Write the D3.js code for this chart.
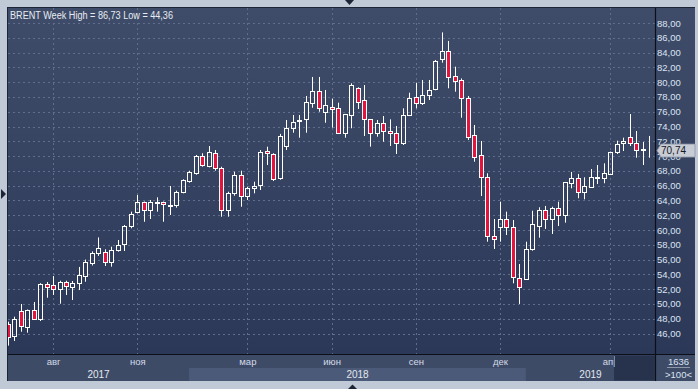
<!DOCTYPE html>
<html><head><meta charset="utf-8">
<script src="https://cdn.jsdelivr.net/npm/d3@7"></script>
<style>html,body{margin:0;padding:0;background:#c0cad7;overflow:hidden}</style>
</head><body><svg id="c" width="698" height="389"></svg>
<script>
// ---- data ----
const firstWeek = "2017-06-19"; // Monday of first weekly candle
const opens  = [47.25,45.62,49.04,46.92,49.18,47.92,52.70,52.56,52.06,52.97,
                52.33,52.79,53.82,55.60,56.85,57.07,55.71,57.30,58.07,60.58,
                62.48,63.79,62.75,63.60,63.79,63.30,63.34,65.18,66.67,67.75,
                70.01,68.70,70.38,68.35,62.75,64.96,67.40,64.64,65.64,66.05,
                70.65,70.24,67.05,71.30,73.76,74.70,75.06,77.22,78.76,76.00,
                76.68,76.46,73.16,75.56,79.17,77.58,74.97,73.08,74.43,73.39,
                73.08,71.81,75.56,77.95,77.14,78.26,79.03,83.17,84.21,80.83,
                80.29,77.81,72.85,70.15,67.17,59.19,60.45,61.45,60.37,53.47,
                53.33,57.39,60.58,62.71,61.53,62.94,62.07,66.40,67.03,65.10,
                65.87,67.10,67.07,67.62,70.59,71.73,72.54,71.73,70.80,70.70];
const highs  = [47.60,48.27,49.99,49.25,50.26,52.80,52.97,53.78,53.14,53.14,
                53.10,55.00,56.00,57.10,59.00,57.39,57.74,58.65,60.68,62.48,
                64.73,63.85,64.06,64.42,63.85,65.95,65.32,66.86,68.02,70.15,
                70.38,71.36,70.82,68.56,65.18,67.89,68.02,65.86,66.53,70.82,
                71.27,70.38,73.00,74.88,75.56,75.56,78.13,80.70,80.70,78.94,
                77.76,77.22,75.70,79.84,79.30,79.61,75.00,74.88,75.42,74.97,
                74.07,76.46,78.57,79.92,80.29,80.29,83.00,86.73,85.57,82.09,
                80.50,78.13,74.20,72.04,67.67,61.49,63.83,62.48,61.35,55.40,
                58.42,62.61,63.07,63.25,63.15,63.83,66.50,67.85,67.58,67.13,
                68.25,68.79,69.02,70.60,72.08,72.49,75.69,73.39,71.90,72.72];
const lows   = [44.36,44.99,46.24,46.11,47.83,47.69,50.84,51.21,50.03,51.21,
                50.53,51.88,53.01,55.20,56.50,55.13,55.04,57.07,57.16,60.23,
                62.26,61.12,61.49,62.48,61.12,62.03,63.02,64.96,66.40,67.48,
                68.56,68.48,68.02,61.80,61.80,64.64,63.15,64.06,64.96,65.41,
                68.79,66.63,66.80,70.82,73.16,72.49,73.16,76.54,76.00,74.51,
                73.84,73.00,72.49,73.76,76.37,72.72,71.27,72.62,71.94,71.36,
                70.28,71.50,75.42,76.46,76.91,77.58,78.90,82.63,79.17,78.71,
                75.19,72.17,69.24,64.60,58.42,57.43,58.42,59.32,52.79,50.00,
                53.24,57.20,58.96,60.14,59.46,60.54,60.99,65.64,64.29,64.15,
                65.72,66.22,66.32,67.60,70.28,70.69,71.36,69.78,68.79,69.78];
const closes = [45.57,47.92,47.02,49.18,47.96,52.70,52.33,52.06,52.97,52.38,
                52.83,53.91,55.63,56.86,57.53,55.71,57.30,57.93,60.54,62.16,
                63.79,62.75,63.79,63.75,63.52,63.38,65.14,66.72,67.81,70.05,
                68.79,70.51,68.35,62.67,64.96,67.40,64.56,65.64,65.99,70.51,
                70.38,66.94,72.72,73.76,74.57,74.90,77.27,78.76,76.46,76.87,
                76.41,73.08,75.65,79.61,77.27,74.97,73.08,74.43,73.43,73.08,
                71.81,75.56,77.81,77.14,78.26,78.94,82.86,84.21,80.66,80.11,
                77.81,72.62,69.92,67.21,59.23,58.74,61.49,60.37,53.60,52.25,
                57.39,60.77,62.71,61.53,62.94,62.07,66.49,67.03,65.10,65.95,
                67.17,67.20,67.67,70.51,71.63,72.08,71.73,70.86,70.90,70.74];
const yTicks = [46,48,50,52,54,56,58,60,62,64,66,68,70,72,74,76,78,80,82,84,86,88];
const monthTickDates = ["2017-08-07","2017-11-06","2018-03-05","2018-06-04","2018-09-03","2018-12-03","2019-04-01"];
const monthLabels = ["авг","ноя","мар","июн","сен","дек","апр"];
const yearBoundaryDates = ["2018-01-01","2018-12-31"];
const yearLabels = ["2017","2018","2019"];
const titleText = "BRENT Week High = 86,73 Low = 44,36";
const lastValue = 70.74;
const infoTop = "1636", infoBottom = ">100<";

// ---- layout ----
const W = 698, H = 389;
const L = 8, T = 8, R = 655, B = 354, FR = 695, FB = 381;
const svg = d3.select("#c");
const fmt = d => d3.format(".2f")(d).replace(".", ",");
const parse = d3.utcParse("%Y-%m-%d");
const w0 = parse(firstWeek);
const weeks = d3.range(opens.length).map(i => d3.utcDay.offset(w0, 7 * i));
const x = d3.scaleUtc().domain([weeks[0], weeks[weeks.length - 1]]).range([7.7, 649]);
const y = d3.scaleLinear().domain([46, 88]).range([333.5, 23]);

const defs = svg.append("defs");
const g1 = defs.append("linearGradient").attr("id", "bg").attr("x1", 0).attr("y1", 0).attr("x2", 0).attr("y2", 1);
g1.append("stop").attr("offset", "0%").attr("stop-color", "#3f4c69");
g1.append("stop").attr("offset", "100%").attr("stop-color", "#2b3858");
defs.append("clipPath").attr("id", "plotclip").append("rect")
  .attr("x", L).attr("y", T).attr("width", R - L).attr("height", B - T);

// outer
svg.append("rect").attr("width", W).attr("height", H).attr("fill", "#c0cad7");
svg.append("rect").attr("x", L - 1).attr("y", T - 1).attr("width", FR - L + 1).attr("height", FB - T + 1).attr("fill", "#1c2436");
svg.append("rect").attr("x", L).attr("y", T).attr("width", FR - L).attr("height", B - T).attr("fill", "url(#bg)");

// bottom rows
svg.append("rect").attr("x", L).attr("y", B).attr("width", FR - L).attr("height", FB - B).attr("fill", "#3e4b67");
const yb = yearBoundaryDates.map(d => x(parse(d)));
const bandEdges = [L, ...yb, R];
const bandFill = ["#3e4b67", "#4b5a78", "#3e4b67"];
yearLabels.forEach((lab, i) => {
  svg.append("rect").attr("x", bandEdges[i]).attr("y", 368).attr("width", bandEdges[i + 1] - bandEdges[i]).attr("height", FB - 368)
    .attr("fill", bandFill[i]);
  svg.append("text").attr("x", (bandEdges[i] + bandEdges[i + 1]) / 2).attr("y", 377.5)
    .attr("text-anchor", "middle").attr("fill", "#e3e8ef")
    .attr("font-family", "Liberation Sans, Arial, sans-serif").attr("font-size", 10).text(lab);
});

// grid
const grid = svg.append("g");
grid.selectAll("line.h").data(yTicks).join("line")
  .attr("x1", L).attr("x2", R).attr("y1", d => Math.round(y(d)) + 0.5).attr("y2", d => Math.round(y(d)) + 0.5)
  .attr("stroke", "#5f6e8d").attr("stroke-dasharray", "2,3");
const mDates = monthTickDates.map(parse);
grid.selectAll("line.v").data(mDates).join("line")
  .attr("x1", d => Math.round(x(d)) + 0.5).attr("x2", d => Math.round(x(d)) + 0.5).attr("y1", T).attr("y2", B)
  .attr("stroke", "#5f6e8d").attr("stroke-dasharray", "2,3");

// candles
const cg = svg.append("g").attr("clip-path", "url(#plotclip)");
const idx = d3.range(opens.length);
const cx = i => Math.round(x(weeks[i])) + 0.5;
const bTop = i => Math.round(y(Math.max(opens[i], closes[i])));
const bBot = i => Math.round(y(Math.min(opens[i], closes[i])));
cg.selectAll("line.wu").data(idx).join("line")
  .attr("x1", cx).attr("x2", cx).attr("y1", i => y(highs[i])).attr("y2", i => bTop(i))
  .attr("stroke", "#ffffff").attr("stroke-width", 1);
cg.selectAll("line.wd").data(idx).join("line")
  .attr("x1", cx).attr("x2", cx).attr("y1", i => bBot(i)).attr("y2", i => y(lows[i]))
  .attr("stroke", "#ffffff").attr("stroke-width", 1);
cg.selectAll("rect.b").data(idx).join("rect")
  .attr("x", i => cx(i) - 2).attr("width", 4)
  .attr("y", i => bTop(i) + 0.5).attr("height", i => Math.max(0, bBot(i) - bTop(i)))
  .attr("fill", i => closes[i] < opens[i] ? "#e3143d" : "none")
  .attr("stroke", "#ffffff").attr("stroke-width", 1);

// axis lines
svg.append("line").attr("x1", L).attr("x2", FR).attr("y1", B + 0.5).attr("y2", B + 0.5).attr("stroke", "#0c0f18").attr("stroke-width", 1.2);
svg.append("line").attr("x1", R + 0.5).attr("x2", R + 0.5).attr("y1", T).attr("y2", FB).attr("stroke", "#0c0f18").attr("stroke-width", 1.2);

// right axis
const ya = svg.append("g").attr("transform", `translate(${R + 1},0)`)
  .call(d3.axisRight(y).tickValues(yTicks).tickFormat(fmt).tickSize(0).tickPadding(1));
ya.select(".domain").remove();
ya.selectAll("text").attr("fill", "#dbe4f2").attr("font-family", "Liberation Sans, Arial, sans-serif").attr("font-size", 9.5);

// bottom month axis
const xa = svg.append("g").attr("transform", `translate(0,${B + 4})`)
  .call(d3.axisBottom(x).tickValues(mDates).tickFormat((d, i) => monthLabels[i]).tickSize(0).tickPadding(0));
xa.select(".domain").remove();
xa.selectAll("text").attr("fill", "#d3dbe8").attr("font-family", "Liberation Sans, Arial, sans-serif").attr("font-size", 9.5);

// dark rect (future region) over bottom rows
svg.append("rect").attr("x", 614).attr("y", B + 1.5).attr("width", R - 614).attr("height", FB - B - 2).attr("fill", "#27334d");
svg.append("line").attr("x1", 614.5).attr("x2", 614.5).attr("y1", B + 2).attr("y2", 367).attr("stroke", "#7a879e");

// bottom-right info
const info = svg.append("g").attr("font-family", "Liberation Sans, Arial, sans-serif").attr("font-size", 9.5).attr("fill", "#dbe4f2").attr("text-anchor", "middle");
info.append("text").attr("x", 678.5).attr("y", 365).text(infoTop);
info.append("line").attr("x1", 667).attr("x2", 690).attr("y1", 367.5).attr("y2", 367.5).attr("stroke", "#8c97aa");
info.append("text").attr("x", 678.5).attr("y", 377.5).text(infoBottom);

// last value marker
const ly = y(lastValue);
svg.append("path")
  .attr("d", `M${R + 2},${ly} L${R + 6},${ly - 6.5} L${FR},${ly - 6.5} L${FR},${ly + 6.5} L${R + 6},${ly + 6.5} Z`)
  .attr("fill", "#c8ccd4").attr("stroke", "#8e96a4").attr("stroke-width", 0.8);
svg.append("text").attr("x", 661).attr("y", ly + 3.5).attr("fill", "#15181f")
  .attr("font-family", "Liberation Sans, Arial, sans-serif").attr("font-size", 10).text(fmt(lastValue));

// title
svg.append("text").attr("x", 10).attr("y", 18.5).attr("fill", "#e8ecf2")
  .attr("font-family", "Liberation Sans, Arial, sans-serif").attr("font-size", 10)
  .attr("textLength", 163).attr("lengthAdjust", "spacingAndGlyphs").text(titleText);

// frame triangles
svg.append("path").attr("d", "M345,0 L354,0 L349.5,5 Z").attr("fill", "#1c2536");
svg.append("path").attr("d", "M1,189 L1,199 L6,194 Z").attr("fill", "#1c2536");
svg.append("path").attr("d", "M348,389 L357,389 L352.5,384.5 Z").attr("fill", "#1c2536");
</script></body></html>
